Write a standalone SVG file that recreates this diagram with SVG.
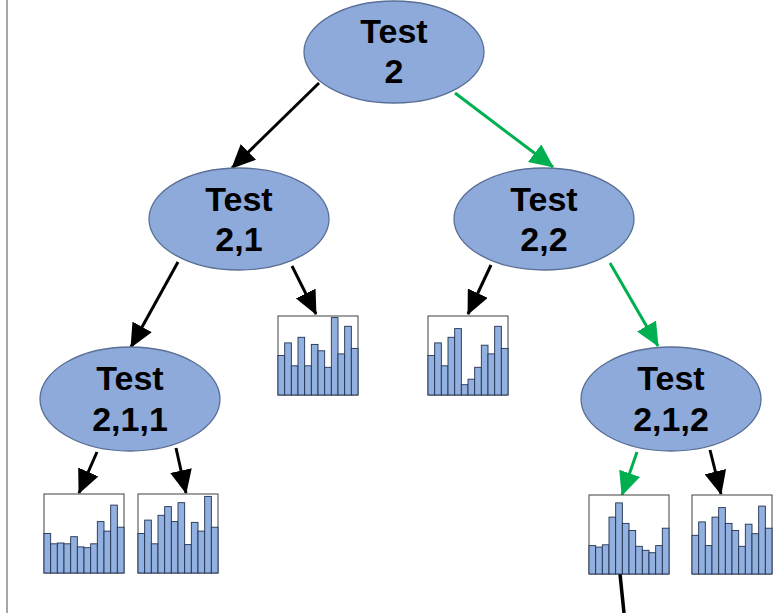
<svg xmlns="http://www.w3.org/2000/svg" width="781" height="613" viewBox="0 0 781 613">
<style>
.node ellipse{fill:#8eaadb;stroke:#5a6f95;stroke-width:1.3}
.node text{font-family:"Liberation Sans",Arial,sans-serif;font-weight:bold;font-size:34px;fill:#000;text-anchor:middle}
.hist .frame{fill:#fff;stroke:#404040;stroke-width:1}
.hist .bar{fill:#92b0e0;stroke:#22324f;stroke-width:0.9}
.edge{fill:none;stroke-width:3}
.blk{stroke:#000}
.grn{stroke:#00b050}
</style>
<defs>
<marker id="ab" markerUnits="userSpaceOnUse" markerWidth="24" markerHeight="22" refX="23" refY="11" orient="auto"><path d="M0,0 L24,11 L0,22 z" fill="#000"/></marker>
<marker id="ag" markerUnits="userSpaceOnUse" markerWidth="24" markerHeight="22" refX="23" refY="11" orient="auto"><path d="M0,0 L24,11 L0,22 z" fill="#00b050"/></marker>
</defs>
<rect x="0" y="0" width="781" height="613" fill="#fff"/>
<line x1="7" y1="0" x2="7" y2="613" stroke="#8a8a8a" stroke-width="1.5"/>

<g id="connectors">
<line class="edge blk" x1="319" y1="83" x2="232" y2="168" marker-end="url(#ab)"/>
<line class="edge grn" x1="455" y1="93" x2="553" y2="167" marker-end="url(#ag)"/>
<line class="edge blk" x1="178" y1="262" x2="131" y2="347" marker-end="url(#ab)"/>
<line class="edge blk" x1="292" y1="266" x2="316" y2="314" marker-end="url(#ab)"/>
<line class="edge blk" x1="491" y1="265" x2="468" y2="314" marker-end="url(#ab)"/>
<line class="edge grn" x1="610" y1="263" x2="658" y2="346" marker-end="url(#ag)"/>
<line class="edge blk" x1="97" y1="452" x2="79" y2="493" marker-end="url(#ab)"/>
<line class="edge blk" x1="176" y1="448" x2="186" y2="493" marker-end="url(#ab)"/>
<line class="edge grn" x1="637" y1="452" x2="622" y2="495" marker-end="url(#ag)"/>
<line class="edge blk" x1="710" y1="450" x2="721" y2="494" marker-end="url(#ab)"/>
<line class="edge blk" x1="620" y1="574" x2="624" y2="613" style="stroke-width:3.5"/>
</g>

<g id="n_test2" class="node"><ellipse cx="394" cy="52" rx="90" ry="51"/><text x="394" y="43">Test</text><text x="394" y="83">2</text></g>
<g id="n_test21" class="node"><ellipse cx="239" cy="219" rx="90" ry="51"/><text x="239" y="211">Test</text><text x="239" y="251">2,1</text></g>
<g id="n_test22" class="node"><ellipse cx="544" cy="219" rx="90" ry="51"/><text x="544" y="211">Test</text><text x="544" y="251">2,2</text></g>
<g id="n_test211" class="node"><ellipse cx="130" cy="399" rx="90" ry="52"/><text x="130" y="390">Test</text><text x="130" y="431">2,1,1</text></g>
<g id="n_test212" class="node"><ellipse cx="671" cy="399" rx="90" ry="52"/><text x="671" y="390">Test</text><text x="671" y="431">2,1,2</text></g>

<g id="h1" class="hist" transform="translate(278,316)">
<rect class="frame" width="80" height="79"/>
<rect class="bar" x="0" y="39.5" width="6.67" height="39.5"/><rect class="bar" x="6.67" y="26.9" width="6.67" height="52.1"/><rect class="bar" x="13.33" y="49.8" width="6.67" height="29.2"/><rect class="bar" x="20" y="21.3" width="6.67" height="57.7"/><rect class="bar" x="26.67" y="49.8" width="6.67" height="29.2"/><rect class="bar" x="33.33" y="28.4" width="6.67" height="50.6"/><rect class="bar" x="40" y="34.8" width="6.67" height="44.2"/><rect class="bar" x="46.67" y="51.3" width="6.67" height="27.7"/><rect class="bar" x="53.33" y="1.6" width="6.67" height="77.4"/><rect class="bar" x="60" y="37.9" width="6.67" height="41.1"/><rect class="bar" x="66.67" y="10.3" width="6.67" height="68.7"/><rect class="bar" x="73.33" y="32.4" width="6.67" height="46.6"/>
</g>
<g id="h2" class="hist" transform="translate(428,316)">
<rect class="frame" width="80" height="79"/>
<rect class="bar" x="0" y="39.5" width="6.67" height="39.5"/><rect class="bar" x="6.67" y="26.9" width="6.67" height="52.1"/><rect class="bar" x="13.33" y="49.8" width="6.67" height="29.2"/><rect class="bar" x="20" y="21.3" width="6.67" height="57.7"/><rect class="bar" x="26.67" y="12.6" width="6.67" height="66.4"/><rect class="bar" x="33.33" y="68.7" width="6.67" height="10.3"/><rect class="bar" x="40" y="63.2" width="6.67" height="15.8"/><rect class="bar" x="46.67" y="51.3" width="6.67" height="27.7"/><rect class="bar" x="53.33" y="29.2" width="6.67" height="49.8"/><rect class="bar" x="60" y="37.9" width="6.67" height="41.1"/><rect class="bar" x="66.67" y="10.3" width="6.67" height="68.7"/><rect class="bar" x="73.33" y="32.4" width="6.67" height="46.6"/>
</g>
<g id="h3" class="hist" transform="translate(44,494)">
<rect class="frame" width="80" height="79"/>
<rect class="bar" x="0" y="39.5" width="6.67" height="39.5"/><rect class="bar" x="6.67" y="49.8" width="6.67" height="29.2"/><rect class="bar" x="13.33" y="49" width="6.67" height="30"/><rect class="bar" x="20" y="49.8" width="6.67" height="29.2"/><rect class="bar" x="26.67" y="42.7" width="6.67" height="36.3"/><rect class="bar" x="33.33" y="52.9" width="6.67" height="26.1"/><rect class="bar" x="40" y="53.7" width="6.67" height="25.3"/><rect class="bar" x="46.67" y="49.8" width="6.67" height="29.2"/><rect class="bar" x="53.33" y="27.6" width="6.67" height="51.4"/><rect class="bar" x="60" y="37.1" width="6.67" height="41.9"/><rect class="bar" x="66.67" y="11.1" width="6.67" height="67.9"/><rect class="bar" x="73.33" y="33.2" width="6.67" height="45.8"/>
</g>
<g id="h4" class="hist" transform="translate(138,494)">
<rect class="frame" width="80" height="79"/>
<rect class="bar" x="0" y="39.5" width="6.67" height="39.5"/><rect class="bar" x="6.67" y="26.1" width="6.67" height="52.9"/><rect class="bar" x="13.33" y="49.8" width="6.67" height="29.2"/><rect class="bar" x="20" y="21.3" width="6.67" height="57.7"/><rect class="bar" x="26.67" y="12.6" width="6.67" height="66.4"/><rect class="bar" x="33.33" y="27.6" width="6.67" height="51.4"/><rect class="bar" x="40" y="8.7" width="6.67" height="70.3"/><rect class="bar" x="46.67" y="50.6" width="6.67" height="28.4"/><rect class="bar" x="53.33" y="28.4" width="6.67" height="50.6"/><rect class="bar" x="60" y="37.1" width="6.67" height="41.9"/><rect class="bar" x="66.67" y="2.4" width="6.67" height="76.6"/><rect class="bar" x="73.33" y="33.2" width="6.67" height="45.8"/>
</g>
<g id="h5" class="hist" transform="translate(589,495)">
<rect class="frame" width="80" height="79"/>
<rect class="bar" x="0" y="50.6" width="6.67" height="28.4"/><rect class="bar" x="6.67" y="52.1" width="6.67" height="26.9"/><rect class="bar" x="13.33" y="49.8" width="6.67" height="29.2"/><rect class="bar" x="20" y="22.1" width="6.67" height="56.9"/><rect class="bar" x="26.67" y="7.9" width="6.67" height="71.1"/><rect class="bar" x="33.33" y="28.4" width="6.67" height="50.6"/><rect class="bar" x="40" y="35.5" width="6.67" height="43.5"/><rect class="bar" x="46.67" y="51.3" width="6.67" height="27.7"/><rect class="bar" x="53.33" y="55.3" width="6.67" height="23.7"/><rect class="bar" x="60" y="57.7" width="6.67" height="21.3"/><rect class="bar" x="66.67" y="50.6" width="6.67" height="28.4"/><rect class="bar" x="73.33" y="33.2" width="6.67" height="45.8"/>
</g>
<g id="h6" class="hist" transform="translate(692,495)">
<rect class="frame" width="80" height="79"/>
<rect class="bar" x="0" y="40.3" width="6.67" height="38.7"/><rect class="bar" x="6.67" y="26.9" width="6.67" height="52.1"/><rect class="bar" x="13.33" y="50.6" width="6.67" height="28.4"/><rect class="bar" x="20" y="22.1" width="6.67" height="56.9"/><rect class="bar" x="26.67" y="12.6" width="6.67" height="66.4"/><rect class="bar" x="33.33" y="28.4" width="6.67" height="50.6"/><rect class="bar" x="40" y="35.5" width="6.67" height="43.5"/><rect class="bar" x="46.67" y="51.3" width="6.67" height="27.7"/><rect class="bar" x="53.33" y="29.2" width="6.67" height="49.8"/><rect class="bar" x="60" y="38.7" width="6.67" height="40.3"/><rect class="bar" x="66.67" y="11.1" width="6.67" height="67.9"/><rect class="bar" x="73.33" y="33.2" width="6.67" height="45.8"/>
</g>
</svg>
